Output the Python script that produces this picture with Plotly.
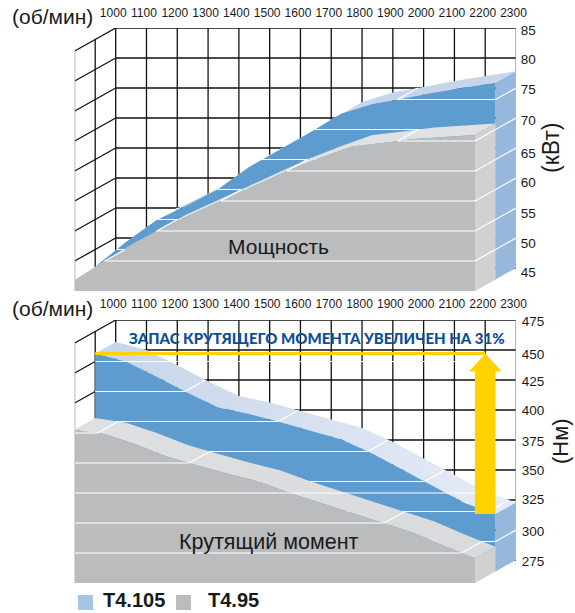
import numpy as np
import plotly.graph_objects as go

# ---------- data ----------
RPM = [1000, 1100, 1200, 1300, 1400, 1500, 1600, 1700, 1800, 1900, 2000, 2100, 2200, 2300]
POWER_T4105 = [47.13, 51.25, 54.92, 57.42, 60.08, 63.75, 66.67, 69.58, 72.67, 74.25, 75.17, 76.17, 77.0, 77.8]
POWER_T495 = [46.83, 50.08, 53.17, 55.92, 58.25, 60.58, 62.95, 65.25, 67.25, 69.08, 69.67, 70.33, 70.68, 71.0]
TORQUE_T4105 = [456.7, 450.0, 437.3, 423.9, 411.7, 406.3, 399.6, 392.1, 385.0, 373.3, 359.6, 345.8, 332.1, 322.9]
TORQUE_T495 = [403.0, 399.0, 390.4, 380.4, 372.9, 365.8, 359.4, 350.0, 341.7, 333.3, 325.4, 316.9, 305.8, 295.6]
POWER_TICKS = [85, 80, 75, 70, 65, 60, 55, 50, 45]
TORQUE_TICKS = [475, 450, 425, 400, 375, 350, 325, 300, 275]
SERIES = ["T4.105", "T4.95"]

# ---------- oblique projection (depth expressed in axis units) ----------
W, H = 575, 613
PX_PER_RPM = (516 - 115.7) / 1300
DEPTH_RPM = 41 / PX_PER_RPM
DEPTH_KW = 23 / 6.0
DEPTH_NM = 23 / 1.2
POWER_LABEL_NUDGE_PX = [2.7, 1, 1, 2, 5, 4, 5, 5, 4]
TORQUE_LABEL_NUDGE_PX = [1.7, 4, 1.7, 0.7, 1.7, 0.7, -1, 1.7, 1.7]

BLACK = "#111111"
GREY_AXIS = "#8c8c8c"
BLUE_FACE = "#5e9bcf"
BLUE_SIDE = "#97b8dd"
BLUE_TOP = "#c6d5ea"
BLUE_TOP_R = "#e6ecf7"
BLUE_KEY = "#a4c5e6"
GREY_FACE = "#bbbcbe"
GREY_SIDE = "#d0d1d2"
GREY_TOP = "#e0e1e2"
YELLOW = "#ffd200"
FONT = "Liberation Sans"

fig = go.Figure()


def add_poly(xs, ys, color, ax, gradient=None):
    kw = dict(fillcolor=color)
    if gradient:
        kw = dict(fillgradient=dict(type="horizontal", colorscale=[[0, gradient[0]], [1, gradient[1]]]))
    fig.add_trace(go.Scatter(x=xs, y=ys, mode="lines", fill="toself", line=dict(width=0),
                             hoverinfo="skip", showlegend=False, xaxis=ax[0], yaxis=ax[1], **kw))


def add_lines(segs, color, width, ax):
    xs, ys = [], []
    for s in segs:
        xs += [p[0] for p in s] + [None]
        ys += [p[1] for p in s] + [None]
    fig.add_trace(go.Scatter(x=xs, y=ys, mode="lines", line=dict(color=color, width=width),
                             hoverinfo="skip", showlegend=False, xaxis=ax[0], yaxis=ax[1]))


def level_parts(rpm, vals, level):
    """Horizontal pieces of the level line under the curve, and the curve crossings."""
    pieces, crosses = [], []
    start = rpm[0] if vals[0] >= level else None
    for i in range(len(rpm) - 1):
        a, b = vals[i], vals[i + 1]
        if (a - level) * (b - level) < 0:
            rc = rpm[i] + (level - a) / (b - a) * (rpm[i + 1] - rpm[i])
            crosses.append(rc)
            if start is None:
                start = rc
            else:
                pieces.append((start, rc))
                start = None
    if start is not None:
        pieces.append((start, rpm[-1]))
    return pieces, crosses


def draw_panel(ax, rear, front, levels, dv, rear_grads=None, front_grads=None):
    rpm = np.array(RPM, float)
    rear = np.array(rear, float)
    front = np.array(front, float)
    bottom = min(levels)
    top = max(levels)

    def P(r, v, t):
        return (float(r - DEPTH_RPM * t), float(v - dv * t))

    # grid on the back and left walls
    segs = [[P(r, top, 0), P(r, bottom, 0)] for r in RPM[:-1]]
    segs += [[P(RPM[0], v, 0), P(RPM[-1], v, 0)] for v in levels]
    segs += [[P(RPM[0], v, 0), P(RPM[0], v, 1)] for v in levels]
    segs += [[P(RPM[0], top, 0.5), P(RPM[0], bottom, 0.5)]]
    add_lines(segs, BLACK, 1.3, ax)
    add_lines([[P(RPM[0], top, 1), P(RPM[0], bottom, 1)]], "#777777", 1.1, ax)
    add_lines([[P(RPM[-1], top, 0), P(RPM[-1], bottom, 0)]], GREY_AXIS, 1.3, ax)

    def solid(vals, t, face, side, topc, grad, diag_late):
        tb, tf = t, t + 0.5
        f = [P(r, v, tf) for r, v in zip(rpm, vals)]
        b = [P(r, v, tb) for r, v in zip(rpm, vals)]
        # top surface
        poly = f + b[::-1]
        add_poly([p[0] for p in poly], [p[1] for p in poly], topc, ax, grad)
        # right side
        poly = [f[-1], b[-1], P(RPM[-1], bottom, tb), P(RPM[-1], bottom, tf)]
        add_poly([p[0] for p in poly], [p[1] for p in poly], side, ax)
        hseg, dseg = [], []
        for lv in levels:
            if lv == bottom or lv == top:
                continue
            pieces, crosses = level_parts(rpm, vals, lv)
            for a, c in pieces:
                hseg.append([P(a, lv, tf), P(c, lv, tf)])
            for c in crosses:
                dseg.append([P(c, lv, tf), P(c, lv, tb)])
            if vals[-1] >= lv:
                hseg.append([P(RPM[-1], lv, tf), P(RPM[-1], lv, tb)])
        if not diag_late:
            add_lines(dseg, "white", 1.2, ax)
        poly = f + [P(RPM[-1], bottom, tf), P(RPM[0], bottom, tf)]
        add_poly([p[0] for p in poly], [p[1] for p in poly], face, ax)
        add_lines(hseg, "white", 1.2, ax)
        if diag_late:
            add_lines(dseg, "white", 1.2, ax)

    solid(rear, 0.0, BLUE_FACE, BLUE_SIDE, BLUE_TOP, rear_grads, False)
    solid(front, 0.5, GREY_FACE, GREY_SIDE, GREY_TOP, front_grads, True)
    return P


# axis pairs ---------------------------------------------------------------
A1 = ("x", "y")
A2 = ("x2", "y2")
draw_panel(A1, POWER_T4105, POWER_T495, POWER_TICKS, DEPTH_KW)
P2 = draw_panel(A2, TORQUE_T4105, TORQUE_T495, TORQUE_TICKS, DEPTH_NM,
                rear_grads=(BLUE_TOP, BLUE_TOP_R), front_grads=("#dfe0e1", "#d9dadb"))

# yellow reserve line and arrow on the T4.105 face
peak = TORQUE_T4105[0]
base = TORQUE_T4105[-1]
arrow_mid = RPM[-1] - 33
add_lines([[P2(RPM[0], peak, 0.5), P2(arrow_mid, peak, 0.5)]], YELLOW, 3, A2)
shaft_l, shaft_r = RPM[-1] - 67, RPM[-1]
head_l, head_r = arrow_mid - 53, arrow_mid + 53
neck = peak - 15
poly = [P2(shaft_l, base, 0.5), P2(shaft_l, neck, 0.5), P2(head_l, neck, 0.5), P2(arrow_mid, peak, 0.5),
        P2(head_r, neck, 0.5), P2(shaft_r, neck, 0.5), P2(shaft_r, base, 0.5)]
add_poly([p[0] for p in poly], [p[1] for p in poly], YELLOW, A2)

X_LEFT, X_RIGHT = 74.7 / W, 516 / W
X_RANGE = [RPM[0] - DEPTH_RPM, RPM[-1]]
tick_rpm_shift = 2.5 / PX_PER_RPM


def xaxis_cfg(anchor, ticklen):
    return dict(domain=[X_LEFT, X_RIGHT], range=X_RANGE, anchor=anchor, side="top", showgrid=False,
                zeroline=False, showline=False, ticks="outside", ticklen=ticklen, tickcolor="rgba(0,0,0,0)",
                automargin=False,
                tickvals=[r - tick_rpm_shift for r in RPM], ticktext=[str(r) for r in RPM],
                tickangle=0, tickfont=dict(family=FONT, size=12, color="#1a1a1a"), fixedrange=True)


def yaxis_cfg(anchor, top_px, bot_px, ticks, dv, nudges, px_per_unit, ticklen):
    return dict(domain=[1 - bot_px / H, 1 - top_px / H], range=[min(ticks) - dv, max(ticks)], anchor=anchor,
                side="right", showgrid=False, zeroline=False, showline=False, automargin=False,
                ticks="outside", ticklen=ticklen, tickcolor="rgba(0,0,0,0)", tickwidth=1,
                tickvals=[t - n / px_per_unit for t, n in zip(ticks, nudges)], ticktext=[str(t) for t in ticks],
                tickfont=dict(family=FONT, size=13.5, color="#1a1a1a"), fixedrange=True)


def note(text, x, y, size, angle=0, color="#1a1a1a", family=FONT, bold=False, weight=None, anchor="center"):
    f = dict(family=family, size=size, color=color)
    if weight:
        f["weight"] = weight
    return dict(text=("<b>%s</b>" % text) if bold else text, x=x / W, y=1 - y / H, xref="paper", yref="paper",
                showarrow=False, xanchor=anchor, yanchor="middle", textangle=angle, font=f)


def key(x0, color):
    return dict(type="rect", xref="paper", yref="paper", x0=x0 / W, x1=(x0 + 15) / W,
                y0=1 - 610 / H, y1=1 - 595 / H, fillcolor=color, line=dict(width=0))


fig.update_layout(
    width=W, height=H, margin=dict(l=0, r=0, t=0, b=0, autoexpand=False), paper_bgcolor="white", plot_bgcolor="white",
    xaxis=xaxis_cfg("y", 5), yaxis=yaxis_cfg("x", 28, 291, POWER_TICKS, DEPTH_KW, POWER_LABEL_NUDGE_PX, 6.0, 1),
    xaxis2=xaxis_cfg("y2", 6), yaxis2=yaxis_cfg("x2", 320, 583, TORQUE_TICKS, DEPTH_NM, TORQUE_LABEL_NUDGE_PX, 1.2, 2),
    showlegend=False,
    shapes=[key(78, BLUE_KEY), key(176, GREY_FACE)],
    annotations=[
        note("(об/мин)", 52, 17, 21),
        note("(об/мин)", 52, 308, 21),
        note("(кВт)", 551, 148, 23, angle=-90),
        note("(Нм)", 560, 441, 22, angle=-90),
        note("Мощность", 278, 247, 21),
        note("Крутящий момент", 269, 542, 21.5),
        note("ЗАПАС КРУТЯЩЕГО МОМЕНТА УВЕЛИЧЕН НА 31%", 317, 338, 15, color="#0b4f97", family="Lato", weight=900),
        note(SERIES[0], 101, 600, 20, bold=True, anchor="left"),
        note(SERIES[1], 206, 600, 20, bold=True, anchor="left"),
    ],
)

fig.write_html("out.html", config=dict(displayModeBar=False),
               post_script="document.body.style.margin='0';document.body.style.overflow='hidden';")
